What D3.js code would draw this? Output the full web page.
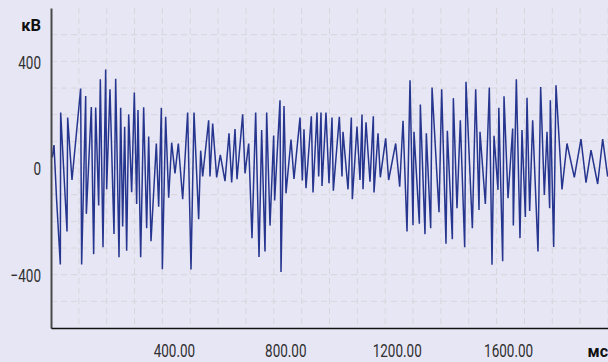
<!DOCTYPE html>
<html>
<head>
<meta charset="utf-8">
<script src="https://cdn.jsdelivr.net/npm/d3@7/dist/d3.min.js"></script>
<style>
  html, body { margin: 0; padding: 0; background: #e7e6f5; }
  svg { display: block; }
  .lbl { font-family: Roboto, "Liberation Sans", sans-serif; }
</style>
</head>
<body>
<svg id="chart" width="608" height="362"></svg>
<script>
// ---- data ----
const timeMs = [4.7,10.8,20,33.5,34.7,57.5,59.8,75.4,106.5,110,124.5,126.9,144.8,153.2,160.4,171.2,177.1,186.7,196.3,199.9,211.8,226.2,232.2,244.2,250.1,257.3,264.5,271.7,278.9,289.6,299.2,307.6,312.4,322,332.7,343.5,350.7,359.1,378.2,386.6,396.2,399.8,411.7,422.5,433.3,445.2,457.2,472.8,490.7,502.7,513.5,530.2,537.4,544.6,566.1,570.9,580.5,594.8,608,624.8,639.2,648.7,660.7,667.9,688.2,696.6,709.8,721.7,734.9,746.9,756.4,768.4,774.4,786.4,799.5,803.1,822.3,825.9,836.6,843.8,861.8,872.5,894.1,902.5,908.4,915.6,934.8,940.8,955.1,961.1,969.5,973.1,987.4,998.2,1009,1013.8,1035.3,1044.9,1048.5,1066.4,1078.4,1082,1098.7,1109.5,1116.7,1120.3,1131.1,1145.4,1157.4,1159.8,1174.2,1182.5,1201.7,1212.4,1237.6,1252,1264,1278.3,1289.1,1299.8,1303.4,1322.6,1326.2,1342.9,1347.7,1363.3,1368.2,1393.2,1402.8,1418.3,1423.1,1441.1,1444.7,1457.8,1469.8,1485.4,1490.1,1512.9,1524.9,1536.8,1540.4,1559.6,1573.9,1583.5,1590.7,1605,1608,1621.8,1626.6,1641,1657.7,1660.1,1670.9,1684,1691.2,1703.2,1709.2,1718.7,1729.5,1748.6,1758.2,1771.4,1781,1790.5,1792.9,1804.9,1813.3,1834.8,1852.8,1879.1,1903,1921,1939,1962.9,1980.9,1998.8];
const voltageKv = [40,86,-117,-362,208,-238,189,-45,298,-362,270,-172,229,-323,227,-141,333,-297,369,-80,295,-247,335,-335,226,-219,155,-310,201,-91,283,-135,217,-335,228,-226,118,-275,92,-145,226,-380,192,-111,95,-20,92,-117,208,-381,208,-192,65,-32,179,-32,167,-35,49,-49,130,-54,146,-42,201,-20,92,-263,208,-334,142,-313,208,-216,122,-122,254,-390,232,-95,107,-41,189,-47,145,-76,194,-92,208,-32,208,-67,208,-57,189,-85,192,-32,136,-80,189,-117,155,-45,201,-80,171,-51,194,-92,130,-35,111,-45,92,-70,177,-238,329,-215,136,-209,238,-248,130,-226,302,-166,295,-284,140,-267,262,-151,179,-297,323,-226,295,-157,136,-135,302,-363,121,-82,226,-350,269,-113,148,-216,333,-263,142,-184,263,-161,179,-313,304,-101,136,-151,254,-296,310,-80,92,-35,108,-55,67,-60,108,-32];
const xTickValues = [400, 800, 1200, 1600];
const yTickValues = [-400, 0, 400];
const xUnit = "мс";
const yUnit = "кВ";

// ---- chart ----
const W = 608, H = 362;
const svg = d3.select("#chart");
const x = d3.scaleLinear().domain([0, 2000]).range([51, 608]);
const y = d3.scaleLinear().domain([-600, 600]).range([328, 8]);
const SX = 0.71; // horizontal condensing of tick labels

svg.append("rect").attr("width", W).attr("height", H).attr("fill", "#e7e6f5");

// grid
const grid = svg.append("g").attr("stroke", "#d8d6da").attr("stroke-width", 1).attr("stroke-dasharray", "6,4");
grid.selectAll("line.v").data(d3.range(100, 2001, 100)).join("line")
  .attr("x1", d => x(d)).attr("x2", d => x(d)).attr("y1", y(600)).attr("y2", y(-600));
grid.selectAll("line.h").data(d3.range(-500, 501, 100)).join("line")
  .attr("x1", x(0)).attr("x2", x(2000)).attr("y1", d => y(d)).attr("y2", d => y(d));

// series
const pts = timeMs.map((t, i) => [t, voltageKv[i]]);
svg.append("path").datum(pts)
  .attr("fill", "none").attr("stroke", "#26358e").attr("stroke-width", 1.5)
  .attr("stroke-linejoin", "miter")
  .attr("d", d3.line().x(d => x(d[0])).y(d => y(d[1])));

// axes
const yAxis = svg.append("g").attr("transform", `translate(${x(0)},0)`)
  .call(d3.axisLeft(y).tickValues(yTickValues).tickSize(0).tickFormat(d3.format("d")));
yAxis.select(".domain").attr("stroke", "#4a4a4a").attr("stroke-width", 2);
yAxis.selectAll("text").attr("class", "lbl").attr("font-size", 19).attr("fill", "#303030")
  .attr("x", -10 / SX).attr("dy", "0.36em").attr("transform", `scale(${SX},1)`);

const xAxis = svg.append("g").attr("transform", `translate(0,${y(-600)})`)
  .call(d3.axisBottom(x).tickValues(xTickValues).tickSize(0).tickFormat(d3.format(".2f")));
xAxis.select(".domain").attr("stroke", "#111").attr("stroke-width", 1.5);
xAxis.selectAll("text").attr("class", "lbl").attr("font-size", 19).attr("fill", "#303030")
  .attr("y", 29).attr("dy", 0).attr("x", 11.5 / SX).attr("transform", `scale(${SX},1)`);

// units
svg.append("text").attr("class", "lbl").attr("x", 41).attr("y", 31).attr("text-anchor", "end")
  .attr("font-size", 16.5).attr("font-weight", "bold").attr("fill", "#111").text(yUnit);
svg.append("text").attr("class", "lbl").attr("x", 608).attr("y", 357).attr("text-anchor", "end")
  .attr("font-size", 16).attr("font-weight", "bold").attr("fill", "#111").text(xUnit);
</script>
</body>
</html>
